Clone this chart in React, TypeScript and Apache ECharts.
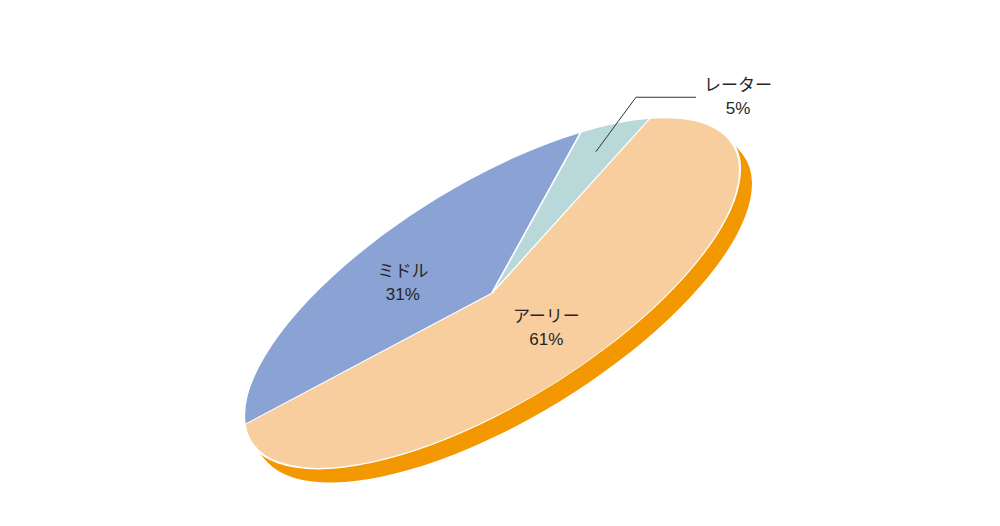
import React, { useEffect, useRef } from "react";
import * as echarts from "echarts";

// ---- data ----
const categories: string[] = ["アーリー", "ミドル", "レーター"];
const values: number[] = [61, 31, 5];

// ---- styles ----
const topColors: string[] = ["#F9CE9E", "#8AA3D4", "#B9D8D9"];
const sideColors: string[] = ["#F39800", "#5F7DB8", "#8FB8BA"];
const TEXT_COLOR = "#262626";
const FONT_FAMILY = "'Liberation Sans', 'Noto Sans CJK JP', sans-serif";

// ---- layout (tilted disc) ----
const CX = 492;
const CY = 293;
const A = 283.4; // semi-major axis
const B = 109.6; // semi-minor axis
const TILT = 31.65; // degrees, counter-clockwise
const START = 37; // parametric start angle (deg), slices run clockwise
const DEPTH_X = 12;
const DEPTH_Y = 14;
const LAYERS = 14;
const R = 100;

const toRad = (d: number) => (d * Math.PI) / 180;
const total = values.reduce((s, v) => s + v, 0);
const cum = values.map((_, i) => values.slice(0, i).reduce((s, v) => s + v, 0));

function ellipsePoint(tDeg: number, rf: number): [number, number] {
  const t = toRad(tDeg);
  const p = toRad(TILT);
  const u = A * rf * Math.cos(t);
  const v = B * rf * Math.sin(t);
  return [CX + u * Math.cos(p) - v * Math.sin(p), CY - (u * Math.sin(p) + v * Math.cos(p))];
}

export default function App() {
  const ref = useRef<HTMLDivElement | null>(null);

  useEffect(() => {
    if (!ref.current) return;
    const chart = echarts.init(ref.current, undefined, { renderer: "svg" });

    const renderItem = (params: any, api: any) => {
      const i = params.dataIndex;
      const val = api.value(0) as number;
      const startT = START - (cum[i] / total) * 360;
      const endT = START - ((cum[i] + val) / total) * 360;
      const midT = (startT + endT) / 2;

      const sector = (fill: string, stroke: string | null, z2: number) => ({
        type: "sector",
        z2,
        shape: {
          cx: 0,
          cy: 0,
          r: R,
          r0: 0,
          startAngle: toRad(-startT),
          endAngle: toRad(-endT),
          clockwise: true,
        },
        style: stroke
          ? { fill, stroke, lineWidth: 1.5, strokeNoScale: true }
          : { fill, stroke: null, lineWidth: 0 },
      });

      const disc = (x: number, y: number, child: any) => ({
        type: "group",
        x,
        y,
        rotation: toRad(TILT),
        scaleX: A / R,
        scaleY: B / R,
        children: [child],
      });

      const children: any[] = [];
      for (let k = LAYERS; k >= 1; k--) {
        children.push(
          disc(CX + (DEPTH_X * k) / LAYERS, CY + (DEPTH_Y * k) / LAYERS, sector(sideColors[i], null, 1))
        );
      }
      children.push(disc(CX, CY, sector(topColors[i], "#ffffff", 10)));

      const labelText = `${categories[i]}\n${val}%`;
      const textStyle = (x: number, y: number) => ({
        type: "text",
        z2: 30,
        x,
        y,
        style: {
          text: labelText,
          fill: TEXT_COLOR,
          fontSize: 17,
          fontFamily: FONT_FAMILY,
          lineHeight: 23,
          align: "center",
          verticalAlign: "middle",
          textAlign: "center",
          textVerticalAlign: "middle",
        },
      });

      if (val / total >= 0.1) {
        const p = ellipsePoint(midT, 0.55);
        children.push(textStyle(p[0] - 8, p[1] + 5));
      } else {
        const anchor = ellipsePoint(midT, 0.83);
        const elbow = ellipsePoint(midT, 1.15);
        const end: [number, number] = [elbow[0] + 60, elbow[1]];
        children.push({
          type: "polyline",
          z2: 30,
          shape: { points: [anchor, elbow, end] },
          style: { stroke: "#333333", lineWidth: 1, fill: null },
        });
        children.push(textStyle(end[0] + 42, end[1]));
      }

      return { type: "group", children };
    };

    chart.setOption({
      animation: false,
      backgroundColor: "#ffffff",
      series: [
        {
          type: "custom",
          coordinateSystem: "none",
          silent: true,
          renderItem,
          data: values.map((v, i) => ({ value: v, name: categories[i] })),
        },
      ],
    });

    return () => chart.dispose();
  }, []);

  return (
    <div
      ref={ref}
      style={{ position: "fixed", left: 0, top: 0, width: 1000, height: 526 }}
    />
  );
}
